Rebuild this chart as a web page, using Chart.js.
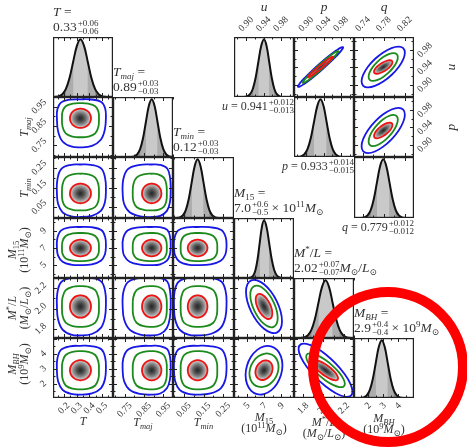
<!DOCTYPE html>
<html>
<head>
<meta charset="utf-8">
<script src="https://cdn.jsdelivr.net/npm/chart.js@4.4.1/dist/chart.umd.min.js"></script>
<style>
html,body{margin:0;padding:0;background:#ffffff;overflow:hidden;}
#root{position:relative;width:467px;height:447px;overflow:hidden;background:#ffffff;font-family:'Liberation Serif','DejaVu Serif',serif;color:#333;}
#root canvas{position:absolute;}
.lbl{position:absolute;white-space:nowrap;font-size:13.5px;line-height:14px;}
.lbl.sm{font-size:12px;}
.lbl sub{font-size:9px;vertical-align:-3px;line-height:0;}
.lbl sup{font-size:9px;vertical-align:5px;line-height:0;}
.lbl.sm sub{font-size:8.5px;vertical-align:-2.5px;}
.lbl.sm sup{font-size:8.5px;vertical-align:4.5px;}
.ss{display:inline-block;font-size:9px;line-height:8px;vertical-align:-3px;margin-left:1px;}
.ss span{display:block;}
#ring{position:absolute;left:308px;top:287px;width:160px;height:160px;box-sizing:border-box;border:10px solid #ff0000;border-radius:50%;}
</style>
</head>
<body>
<div id="root"></div>
<script>
// ---------------- data ----------------
// parameter order: T, Tmaj, Tmin, M15, M*/L, MBH, u, p, q
const PARAM_NAMES = ['T','Tmaj','Tmin','M15','ML','MBH','u','p','q'];
const PEAK     = [0.33, 0.89, 0.12, 7.0, 2.02, 2.9, 0.941, 0.933, 0.779];
const AXIS_MIN = [0.113, 0.69, -0.005, 3.5, 1.71, 1.05, 0.872, 0.872, 0.723];
const AXIS_MAX = [0.587, 1.00, 0.305, 10.5, 2.30, 5.05, 1.010, 1.010, 0.838];
const TICK_VALUES = [[0.2,0.3,0.4,0.5],[0.75,0.85,0.95],[0.05,0.15,0.25],[5,7,9],[1.8,2.0,2.2],[2,3,4],[0.90,0.94,0.98],[0.90,0.94,0.98],[0.74,0.78,0.82]];
const TICK_LABELS = [['0.2','0.3','0.4','0.5'],['0.75','0.85','0.95'],['0.05','0.15','0.25'],['5','7','9'],['1.8','2.0','2.2'],['2','3','4'],['0.90','0.94','0.98'],['0.90','0.94','0.98'],['0.74','0.78','0.82']];

// 1D marginal curves (relative height at each sample)
const HIST_PROFILE = [0.002,0.011,0.044,0.135,0.325,0.607,0.882,1,0.882,0.607,0.325,0.135,0.044,0.011,0.002];
const HIST_X_T    = [0.127,0.156,0.185,0.214,0.243,0.272,0.301,0.33,0.359,0.388,0.417,0.446,0.475,0.504,0.533];
const HIST_X_TMAJ = [0.785,0.80,0.815,0.83,0.845,0.86,0.875,0.89,0.905,0.92,0.935,0.95,0.965,0.98,0.995];
const HIST_X_TMIN = [0.015,0.03,0.045,0.06,0.075,0.09,0.105,0.12,0.135,0.15,0.165,0.18,0.195,0.21,0.225];
const HIST_X_M15  = [5.25,5.5,5.75,6.0,6.25,6.5,6.75,7.0,7.3,7.6,7.9,8.2,8.5,8.8,9.1];
const HIST_X_ML   = [1.775,1.81,1.845,1.88,1.915,1.95,1.985,2.02,2.055,2.09,2.125,2.16,2.195,2.23,2.265];
const HIST_X_MBH  = [1.5,1.7,1.9,2.1,2.3,2.5,2.7,2.9,3.1,3.3,3.5,3.7,3.9,4.1,4.3];
const HIST_X_U    = [0.8955,0.902,0.9085,0.915,0.9215,0.928,0.9345,0.941,0.947,0.953,0.959,0.965,0.971,0.977,0.983];
const HIST_X_P    = [0.8805,0.888,0.8955,0.903,0.9105,0.918,0.9255,0.933,0.940,0.947,0.954,0.961,0.968,0.975,0.982];
const HIST_X_Q    = [0.737,0.743,0.749,0.755,0.761,0.767,0.773,0.779,0.785,0.791,0.797,0.803,0.809,0.815,0.821];

// contour half-extents (data units) for the T..MBH parameters (low side / high side)
const RED_R    = [0.083, 0.050, 0.050, 0.97, 0.110, 0.67];
const GREEN_LO = [0.146, 0.098, 0.086, 1.52, 0.200, 1.27];
const GREEN_HI = [0.146, 0.078, 0.100, 1.75, 0.200, 1.27];
const BLUE_LO  = [0.186, 0.150, 0.120, 2.00, 0.285, 1.63];
const BLUE_HI  = [0.201, 0.098, 0.147, 2.45, 0.285, 1.63];

// contour outlines, in units of each contour's half-extent
const TPL_CIRCLE  = [[1,0],[0.924,0.383],[0.707,0.707],[0.383,0.924],[0,1],[-0.383,0.924],[-0.707,0.707],[-0.924,0.383],[-1,0],[-0.924,-0.383],[-0.707,-0.707],[-0.383,-0.924],[0,-1],[0.383,-0.924],[0.707,-0.707],[0.924,-0.383]];
const TPL_ROUNDSQ = [[1,0],[0.97,0.45],[0.8,0.8],[0.42,0.97],[0,1],[-0.42,0.97],[-0.8,0.8],[-0.97,0.45],[-1,0],[-0.97,-0.45],[-0.8,-0.8],[-0.42,-0.97],[0,-1],[0.42,-0.97],[0.8,-0.8],[0.97,-0.45]];
const TPL_BLOB    = [[1,0.1],[0.97,0.52],[0.82,0.86],[0.42,0.99],[0,1],[-0.45,0.98],[-0.82,0.84],[-0.98,0.48],[-1,0],[-0.95,-0.45],[-0.76,-0.8],[-0.4,-0.97],[0,-1],[0.45,-0.95],[0.8,-0.74],[0.96,-0.38]];
const TPL_RHO_P098 = [[1,0.98],[0.924,0.982],[0.707,0.834],[0.383,0.559],[0,0.199],[-0.383,-0.191],[-0.707,-0.552],[-0.924,-0.83],[-1,-0.98],[-0.924,-0.982],[-0.707,-0.834],[-0.383,-0.559],[0,-0.199],[0.383,0.191],[0.707,0.552],[0.924,0.83]];
const TPL_RHO_P070 = [[1,0.7],[0.924,0.92],[0.707,1.0],[0.383,0.928],[0,0.714],[-0.383,0.392],[-0.707,0.01],[-0.924,-0.374],[-1,-0.7],[-0.924,-0.92],[-0.707,-1.0],[-0.383,-0.928],[0,-0.714],[0.383,-0.392],[0.707,-0.01],[0.924,0.374]];
const TPL_RHO_M080 = [[1,-0.8],[0.924,-0.509],[0.707,-0.141],[0.383,0.248],[0,0.6],[-0.383,0.86],[-0.707,0.99],[-0.924,0.969],[-1,0.8],[-0.924,0.509],[-0.707,0.141],[-0.383,-0.248],[0,-0.6],[0.383,-0.86],[0.707,-0.99],[0.924,-0.969]];
const TPL_RHO_M055 = [[1,-0.55],[0.924,-0.188],[0.707,0.201],[0.383,0.561],[0,0.835],[-0.383,0.983],[-0.707,0.979],[-0.924,0.828],[-1,0.55],[-0.924,0.188],[-0.707,-0.201],[-0.383,-0.561],[0,-0.835],[0.383,-0.983],[0.707,-0.979],[0.924,-0.828]];
const TPL_RHO_P020 = [[1,0.2],[0.924,0.56],[0.707,0.834],[0.383,0.982],[0,0.98],[-0.383,0.828],[-0.707,0.552],[-0.924,0.19],[-1,-0.2],[-0.924,-0.56],[-0.707,-0.834],[-0.383,-0.982],[0,-0.98],[0.383,-0.828],[0.707,-0.552],[0.924,-0.19]];
const TEMPLATES = {RHO_P098:TPL_RHO_P098, RHO_P070:TPL_RHO_P070, RHO_M080:TPL_RHO_M080, RHO_M055:TPL_RHO_M055, RHO_P020:TPL_RHO_P020};

// correlated panels: half-extents [x, y] of red / green / blue contours
const CORR_PANELS = [
  {x:'M15', y:'ML',  tpl:'RHO_M055', red:[0.97,0.123],   green:[1.6,0.205],  blue:[2.1,0.262]},
  {x:'M15', y:'MBH', tpl:'RHO_P020', red:[1.0,0.65],     green:[1.7,1.12],   blue:[2.15,1.62]},
  {x:'ML',  y:'MBH', tpl:'RHO_M080', red:[0.123,0.67],   green:[0.19,1.13],  blue:[0.265,1.78]},
  {x:'p',   y:'u',   tpl:'RHO_P098', red:[0.029,0.024],  green:[0.041,0.037],blue:[0.052,0.046]},
  {x:'q',   y:'u',   tpl:'RHO_P070', red:[0.0176,0.0155],green:[0.028,0.032],blue:[0.0415,0.047]},
  {x:'q',   y:'p',   tpl:'RHO_P070', red:[0.0176,0.018], green:[0.028,0.036],blue:[0.0415,0.052]}
];

// ---------------- layout / style ----------------
const root = document.getElementById('root');
const PAD = 50;
const COL_X = [53,113,173,234,294,354,414];
const ROW_Y = [37,97,157,218,278,338,398];
const FONT_FAMILY = "'Liberation Serif','DejaVu Serif',serif";
const TICK_FONT = {family: FONT_FAMILY, size: 9.5};
const LABEL_PAD = {bottom:2, left:8, top:3, right:5};
const BLOB_SCALES = [1.1,0.95,0.82,0.71,0.61,0.52,0.44,0.36,0.29,0.22,0.15,0.08];
const C_RED = '#ee1414', C_GREEN = '#1c8a1c', C_BLUE = '#1717e6';
const BOTTOM_BASELINE = [425, 426, 426, 421, 426, 422];
const LEFT_LABEL_Y = [0, 127, 188, 250, 308, 364];

const mctx = document.createElement('canvas').getContext('2d');
mctx.font = '9.5px ' + FONT_FAMILY;
function labelShift(pi, position) {
  const w = Math.max(...TICK_LABELS[pi].map(s => mctx.measureText(s).width));
  const lh = 9.5 * 1.2;
  if (position === 'bottom') return 0.354 * w;
  if (position === 'left') return -0.354 * w;
  if (position === 'top') return -(0.354 * w - 0.707 * lh);
  return 0.354 * w;
}

// an axis that shows its tick labels takes exactly PAD pixels; a hidden one takes none
function axis(pi, horizontal, position, show) {
  return {
    type: 'linear', position, min: AXIS_MIN[pi], max: AXIS_MAX[pi], bounds: 'data',
    afterBuildTicks: s => { s.ticks = TICK_VALUES[pi].map(v => ({value: v})); },
    afterFit: s => { const size = show ? PAD : 0; if (horizontal) s.height = size; else s.width = size; },
    grid: {display: false, drawTicks: false},
    border: {display: false},
    ticks: {display: show, autoSkip: false, minRotation: 45, maxRotation: 45, color: '#333', font: TICK_FONT,
      padding: LABEL_PAD[position], labelOffset: show ? labelShift(pi, position) : 0,
      callback: (v, i) => TICK_LABELS[pi][i]}
  };
}

function tickSet(pi) {
  const m = TICK_VALUES[pi], half = (m[1] - m[0]) / 2, out = [];
  for (let k = -40; k <= 40; k++) {
    const v = m[0] + k * half;
    if (v >= AXIS_MIN[pi] - 1e-9 && v <= AXIS_MAX[pi] + 1e-9) out.push({v, major: k % 2 === 0});
  }
  return out;
}

const loopPlugin = {
  id: 'closeLoops',
  afterDatasetUpdate(chart, args) {
    const ds = chart.data.datasets[args.index];
    if (ds && ds.closedLoop && args.meta.dataset) {
      const line = args.meta.dataset;
      line._loop = true; line._fullLoop = true; line._pointsUpdated = false;
      delete line._segments; line._path = undefined;
    }
  }
};

const framePlugin = {
  id: 'frame',
  afterDatasetsDraw(chart, args, o) {
    const {ctx, chartArea: a} = chart;
    ctx.save();
    ctx.strokeStyle = '#222';
    ctx.lineWidth = 1;
    ctx.beginPath();
    for (const t of tickSet(o.xp)) {
      const px = Math.round(chart.scales.x.getPixelForValue(t.v)) + 0.5;
      const len = t.major ? 4 : 2.5;
      ctx.moveTo(px, a.bottom); ctx.lineTo(px, a.bottom - len);
      ctx.moveTo(px, a.top); ctx.lineTo(px, a.top + len);
    }
    if (o.yp !== null && o.yp !== undefined) {
      for (const t of tickSet(o.yp)) {
        const py = Math.round(chart.scales.y.getPixelForValue(t.v)) + 0.5;
        const len = t.major ? 4 : 2.5;
        ctx.moveTo(a.left, py); ctx.lineTo(a.left + len, py);
        ctx.moveTo(a.right, py); ctx.lineTo(a.right - len, py);
      }
    }
    ctx.stroke();
    ctx.lineWidth = 1.2;
    ctx.strokeRect(a.left + 0.6, a.top + 0.6, a.right - a.left - 1.2, a.bottom - a.top - 1.2);
    ctx.restore();
  }
};

function makeChart(row, col, datasets, scales, frameOpts) {
  const x0 = COL_X[col], y0 = ROW_Y[row];
  const w = COL_X[col + 1] - x0, h = ROW_Y[row + 1] - y0;
  const c = document.createElement('canvas');
  c.width = w + 2 * PAD; c.height = h + 2 * PAD;
  c.style.left = (x0 - PAD) + 'px'; c.style.top = (y0 - PAD) + 'px';
  c.style.width = c.width + 'px'; c.style.height = c.height + 'px';
  root.appendChild(c);
  const padding = {left: PAD, right: PAD, top: PAD, bottom: PAD};
  Object.values(scales).forEach(s => { if (s.display !== false && s.ticks && s.ticks.display) padding[s.position] = 0; });
  new Chart(c, {
    type: 'line',
    data: {datasets},
    options: {
      responsive: false, animation: false, events: [], devicePixelRatio: 1,
      layout: {padding, autoPadding: false},
      scales,
      plugins: {legend: {display: false}, tooltip: {enabled: false}, frame: frameOpts},
      elements: {point: {radius: 0}}
    },
    plugins: [loopPlugin, framePlugin]
  });
}

// ---------------- 1D histograms ----------------
const HIST_PANELS = [
  [0,0,0,HIST_X_T],[1,1,1,HIST_X_TMAJ],[2,2,2,HIST_X_TMIN],[3,3,3,HIST_X_M15],[4,4,4,HIST_X_ML],[5,5,5,HIST_X_MBH],
  [0,3,6,HIST_X_U],[1,4,7,HIST_X_P],[2,5,8,HIST_X_Q]
];
HIST_PANELS.forEach(([row, col, pi, xs]) => {
  const pts = () => xs.map((x, i) => ({x, y: HIST_PROFILE[i]}));
  const base = {pointRadius: 0, tension: 0.35, borderWidth: 0};
  const datasets = [
    Object.assign({}, base, {data: pts(), borderColor: '#111', borderWidth: 2, fill: false}),
    Object.assign({}, base, {data: pts().slice(5, 10), backgroundColor: '#c9c9c9', fill: 'origin'}),
    Object.assign({}, base, {data: pts().slice(3, 12), backgroundColor: '#acacac', fill: 'origin'}),
    Object.assign({}, base, {data: pts(), backgroundColor: '#8f8f8f', fill: 'origin'})
  ];
  const top = row === 0 && col >= 3;
  const show = row === 5 || top;
  const scales = {
    x: axis(pi, true, top ? 'top' : 'bottom', show),
    y: {display: false, min: 0, max: 1.04, bounds: 'data'}
  };
  makeChart(row, col, datasets, scales, {xp: pi, yp: null});
});

// ---------------- 2D panels ----------------
function loopPoints(tpl, cx, cy, xlo, xhi, ylo, yhi) {
  return tpl.map(([a, b]) => ({x: cx + a * (a < 0 ? xlo : xhi), y: cy + b * (b < 0 ? ylo : yhi)}));
}
const contourLine = (data, color) => ({data, borderColor: color, borderWidth: 1.8, fill: false, pointRadius: 0, tension: 0.4, closedLoop: true});
const densityFill = (data) => ({data, borderWidth: 0, backgroundColor: 'rgba(0,0,0,0.14)', fill: 'shape', pointRadius: 0, tension: 0.4, closedLoop: true});

const PANELS_2D = [];
for (let r = 1; r <= 5; r++) for (let c = 0; c < r; c++) PANELS_2D.push({row: r, col: c, xp: c, yp: r});
PANELS_2D.push({row: 0, col: 4, xp: 7, yp: 6});
PANELS_2D.push({row: 0, col: 5, xp: 8, yp: 6});
PANELS_2D.push({row: 1, col: 5, xp: 8, yp: 7});

PANELS_2D.forEach(({row, col, xp, yp}) => {
  const cx = PEAK[xp], cy = PEAK[yp];
  const corr = CORR_PANELS.find(p => p.x === PARAM_NAMES[xp] && p.y === PARAM_NAMES[yp]);
  const datasets = [];
  if (corr) {
    const tpl = TEMPLATES[corr.tpl];
    datasets.push(contourLine(loopPoints(tpl, cx, cy, corr.red[0], corr.red[0], corr.red[1], corr.red[1]), C_RED));
    datasets.push(contourLine(loopPoints(tpl, cx, cy, corr.green[0], corr.green[0], corr.green[1], corr.green[1]), C_GREEN));
    datasets.push(contourLine(loopPoints(tpl, cx, cy, corr.blue[0], corr.blue[0], corr.blue[1], corr.blue[1]), C_BLUE));
    BLOB_SCALES.forEach(f => datasets.push(densityFill(loopPoints(tpl, cx, cy, corr.red[0]*f, corr.red[0]*f, corr.red[1]*f, corr.red[1]*f))));
  } else {
    datasets.push(contourLine(loopPoints(TPL_CIRCLE, cx, cy, RED_R[xp], RED_R[xp], RED_R[yp], RED_R[yp]), C_RED));
    datasets.push(contourLine(loopPoints(TPL_ROUNDSQ, cx, cy, GREEN_LO[xp], GREEN_HI[xp], GREEN_LO[yp], GREEN_HI[yp]), C_GREEN));
    datasets.push(contourLine(loopPoints(TPL_BLOB, cx, cy, BLUE_LO[xp], BLUE_HI[xp], BLUE_LO[yp], BLUE_HI[yp]), C_BLUE));
    BLOB_SCALES.forEach(f => datasets.push(densityFill(loopPoints(TPL_CIRCLE, cx, cy, RED_R[xp]*f, RED_R[xp]*f, RED_R[yp]*f, RED_R[yp]*f))));
  }
  const rightSide = col === 5 && row <= 1;
  const scales = {
    x: axis(xp, true, row === 0 ? 'top' : 'bottom', row === 5 || row === 0),
    y: axis(yp, false, rightSide ? 'right' : 'left', col === 0 || rightSide)
  };
  makeChart(row, col, datasets, scales, {xp, yp});
});

// ---------------- text ----------------
const SS = (a, b) => `<span class="ss"><span>${a}</span><span>${b}</span></span>`;
const MSUN = '<i>M</i><sub>⊙</sub>';
const LSUN = '<i>L</i><sub>⊙</sub>';
const NAME_HTML = ['<i>T</i>','<i>T</i><sub><i>maj</i></sub>','<i>T</i><sub><i>min</i></sub>','<i>M</i><sub>15</sub>','<i>M</i><sup>*</sup>/<i>L</i>','<i>M</i><sub><i>BH</i></sub>','<i>u</i>','<i>p</i>','<i>q</i>'];
const UNIT_HTML = ['','','','(10<sup>11</sup>' + MSUN + ')','(' + MSUN + '/' + LSUN + ')','(10<sup>9</sup>' + MSUN + ')'];
const VALUE_HTML = [
  '0.33' + SS('+0.06','−0.06'),
  '0.89' + SS('+0.03','−0.03'),
  '0.12' + SS('+0.03','−0.03'),
  '7.0' + SS('+0.6','−0.5') + ' × 10<sup>11</sup>' + MSUN,
  '2.02' + SS('+0.07','−0.07') + MSUN + '/' + LSUN,
  '2.9' + SS('+0.4','−0.4') + ' × 10<sup>9</sup>' + MSUN,
  '0.941' + SS('+0.012','−0.013'),
  '0.933' + SS('+0.014','−0.015'),
  '0.779' + SS('+0.012','−0.012')
];

function addText(html, x, y, mode, small) {
  const d = document.createElement('div');
  d.className = small ? 'lbl sm' : 'lbl';
  d.innerHTML = html;
  d.style.left = x + 'px';
  d.style.top = y + 'px';
  if (mode === 'center') d.style.transform = 'translateX(-50%)';
  else if (mode === 'right') d.style.transform = 'translateX(-100%)';
  else if (mode === 'rot') d.style.transform = 'translate(-50%,-50%) rotate(-90deg)';
  root.appendChild(d);
}

const BASE_OFF = 11.56;     // div top to baseline, 13.5px text
const BASE_OFF_SM = 11.05;  // div top to baseline, 12px text
for (let pi = 0; pi < 6; pi++) {
  addText(NAME_HTML[pi] + ' =', COL_X[pi], ROW_Y[pi] - 20 - BASE_OFF, 'left');
  addText(VALUE_HTML[pi], COL_X[pi], ROW_Y[pi] - 6 - BASE_OFF, 'left');
  const cx = (COL_X[pi] + COL_X[pi + 1]) / 2;
  addText(NAME_HTML[pi], cx, BOTTOM_BASELINE[pi] - BASE_OFF_SM, 'center', true);
  if (UNIT_HTML[pi]) addText(UNIT_HTML[pi], cx, BOTTOM_BASELINE[pi] + 11 - BASE_OFF_SM, 'center', true);
  if (pi >= 1) {
    if (UNIT_HTML[pi]) {
      addText(NAME_HTML[pi], 12, LEFT_LABEL_Y[pi], 'rot', true);
      addText(UNIT_HTML[pi], 23.5, LEFT_LABEL_Y[pi], 'rot', true);
    } else {
      addText(NAME_HTML[pi], 24, LEFT_LABEL_Y[pi], 'rot', true);
    }
  }
}
for (let pi = 6; pi < 9; pi++) {
  const row = pi - 6, col = pi - 3;
  addText(NAME_HTML[pi] + ' = ' + VALUE_HTML[pi], COL_X[col + 1], ROW_Y[row + 1] + 12 - BASE_OFF_SM, 'right', true);
  addText(NAME_HTML[pi], (COL_X[col] + COL_X[col + 1]) / 2, 12 - BASE_OFF, 'center');
}
addText(NAME_HTML[6], 450.5, (ROW_Y[0] + ROW_Y[1]) / 2, 'rot');
addText(NAME_HTML[7], 450.5, (ROW_Y[1] + ROW_Y[2]) / 2, 'rot');

const ring = document.createElement('div');
ring.id = 'ring';
root.appendChild(ring);
</script>
</body>
</html>
